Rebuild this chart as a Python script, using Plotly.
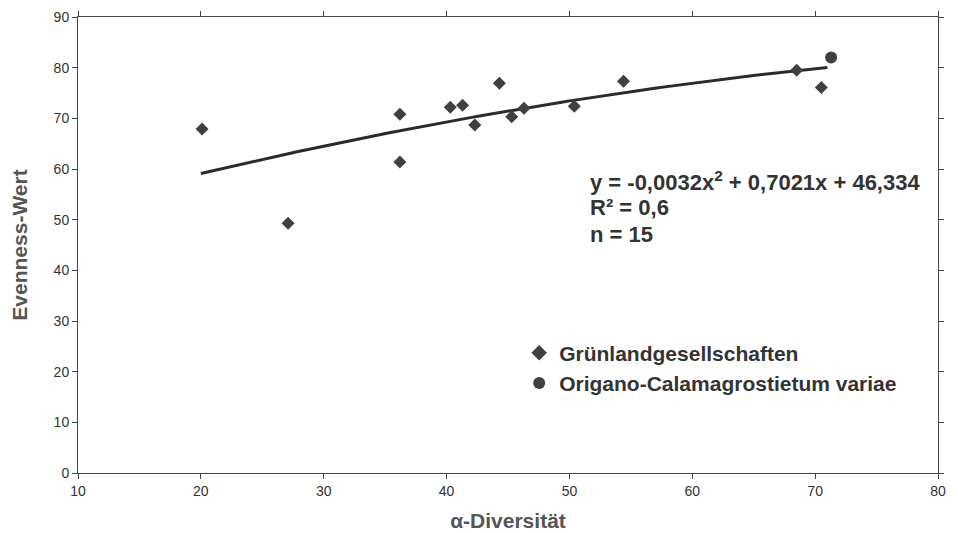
import numpy as np
import plotly.graph_objects as go

# Data
gruen_x = [20.1, 27.1, 36.2, 36.2, 40.3, 41.3, 42.3, 44.3, 45.3, 46.3, 50.4, 54.4, 68.5, 70.5]
gruen_y = [67.9, 49.3, 70.8, 61.4, 72.2, 72.6, 68.7, 76.9, 70.3, 72.0, 72.4, 77.3, 79.5, 76.1]
origano_x = [71.3]
origano_y = [82.0]

# Trendline coefficients (from the equation printed on the chart)
coef_a, coef_b, coef_c = -0.0032, 0.7021, 46.334
trend_x_range = [20, 71]

x_ticks = [10, 20, 30, 40, 50, 60, 70, 80]
y_ticks = [0, 10, 20, 30, 40, 50, 60, 70, 80, 90]

tx = np.linspace(trend_x_range[0], trend_x_range[1], 100)
ty = coef_a * tx**2 + coef_b * tx + coef_c

FONT = "Liberation Sans, Arial, sans-serif"

fig = go.Figure()
fig.add_trace(go.Scatter(x=tx, y=ty, mode="lines",
                         line=dict(color="#2b2b2b", width=3),
                         showlegend=False, hoverinfo="skip"))
fig.add_trace(go.Scatter(x=gruen_x, y=gruen_y, mode="markers",
                         name="<b>Grünlandgesellschaften</b>",
                         marker=dict(symbol="diamond", size=10, color="#404040")))
fig.add_trace(go.Scatter(x=origano_x, y=origano_y, mode="markers",
                         name="<b>Origano-Calamagrostietum variae</b>",
                         marker=dict(symbol="circle", size=12, color="#404040")))

eq_lines = ["y = -0,0032x<sup>2</sup> + 0,7021x + 46,334", "R² = 0,6", "n = 15"]
eq_y_paper = [0.641, 0.583, 0.522]
for t, yy in zip(eq_lines, eq_y_paper):
    fig.add_annotation(x=0.593, y=yy, xref="paper", yref="paper",
                       xanchor="left", yanchor="middle", showarrow=False,
                       text=f"<b>{t}</b>",
                       font=dict(family=FONT, size=22, color="#333333"))

fig.update_layout(
    width=950, height=525,
    margin=dict(l=70, r=20, t=9, b=60),
    paper_bgcolor="white", plot_bgcolor="white",
    font=dict(family=FONT, color="#333333"),
    legend=dict(x=0.513, y=0.230, xanchor="left", yanchor="middle",
                bgcolor="rgba(0,0,0,0)",
                font=dict(size=21, color="#333333", family=FONT),
                itemsizing="constant", tracegroupgap=0),
    xaxis=dict(range=[10, 80], tickvals=x_ticks, ticks="outside", ticklen=5,
               tickcolor="#444", showline=True, linecolor="#444", linewidth=1,
               mirror="ticks", showgrid=False, zeroline=False, automargin=False,
               ticklabeloverflow="allow",
               tickfont=dict(size=14, color="#333"),
               title=dict(text="<b>α-Diversität</b>", font=dict(size=21, color="#555555"),
                          standoff=15)),
    yaxis=dict(range=[0, 90], tickvals=y_ticks, ticks="outside", ticklen=5,
               tickcolor="#444", showline=True, linecolor="#444", linewidth=1,
               mirror="ticks", showgrid=False, zeroline=False, automargin=False,
               ticklabeloverflow="allow",
               tickfont=dict(size=14, color="#333"),
               title=dict(text="<b>Evenness-Wert</b>", font=dict(size=21, color="#555555"),
                          standoff=22)),
)

fig.write_html("out.html")
